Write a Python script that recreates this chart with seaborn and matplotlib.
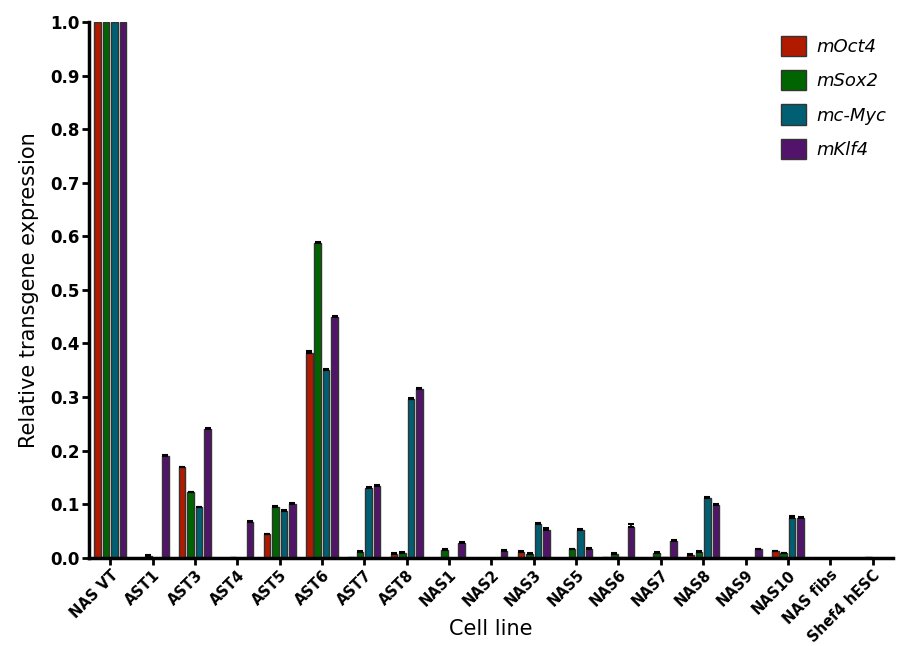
import numpy as np
import pandas as pd
import seaborn as sns
import matplotlib.pyplot as plt

# cell lines on the x axis
cell_lines = ['NAS VT', 'AST1', 'AST3', 'AST4', 'AST5', 'AST6', 'AST7', 'AST8',
              'NAS1', 'NAS2', 'NAS3', 'NAS5', 'NAS6', 'NAS7', 'NAS8', 'NAS9',
              'NAS10', 'NAS fibs', 'Shef4 hESC']
genes = ['mOct4', 'mSox2', 'mc-Myc', 'mKlf4']

# relative expression
oct4 = [1.0, 0.0, 0.169, 0.0, 0.044, 0.383, 0.001, 0.007, 0.0, 0.0,
        0.011, 0.0, 0.001, 0.0, 0.0056, 0.0, 0.012, 0.0, 0.0]
sox2 = [1.0, 0.004, 0.1225, 0.002, 0.095, 0.5875, 0.010, 0.009, 0.015, 0.0,
        0.0075, 0.016, 0.007, 0.009, 0.011, 0.0, 0.008, 0.0, 0.001]
cmyc = [1.0, 0.0, 0.094, 0.0, 0.087, 0.350, 0.130, 0.296, 0.0, 0.0,
        0.063, 0.051, 0.001, 0.001, 0.112, 0.0, 0.075, 0.0, 0.0]
klf4 = [1.0, 0.189, 0.240, 0.067, 0.101, 0.449, 0.134, 0.315, 0.0275, 0.013,
        0.0525, 0.016, 0.0575, 0.031, 0.099, 0.016, 0.074, 0.0, 0.0]

# small error bars (SEM)
oct4_err = [0.0, 0.0, 0.001, 0.0, 0.001, 0.002, 0.0, 0.001, 0.0, 0.0,
            0.001, 0.0, 0.0, 0.0, 0.001, 0.0, 0.001, 0.0, 0.0]
sox2_err = [0.0, 0.001, 0.001, 0.0, 0.001, 0.002, 0.002, 0.001, 0.001, 0.0,
            0.001, 0.001, 0.001, 0.001, 0.001, 0.0, 0.001, 0.0, 0.0]
cmyc_err = [0.0, 0.0, 0.001, 0.0, 0.002, 0.002, 0.002, 0.002, 0.0, 0.0,
            0.002, 0.002, 0.0, 0.0, 0.002, 0.0, 0.002, 0.0, 0.0]
klf4_err = [0.0, 0.002, 0.002, 0.001, 0.002, 0.002, 0.002, 0.002, 0.001, 0.001,
            0.002, 0.002, 0.005, 0.002, 0.002, 0.001, 0.002, 0.0, 0.0]

colors = ['#B21A00', '#006400', '#005F72', '#52146A']

df = pd.DataFrame({
    'Cell line': cell_lines * 4,
    'gene': np.repeat(genes, len(cell_lines)),
    'value': oct4 + sox2 + cmyc + klf4,
})
errs = [oct4_err, sox2_err, cmyc_err, klf4_err]

sns.set_style('ticks')
plt.rcParams['font.family'] = ['DejaVu Sans']
plt.rcParams.update({'text.color': 'black', 'axes.labelcolor': 'black',
                     'xtick.color': 'black', 'ytick.color': 'black',
                     'axes.edgecolor': 'black'})

fig = plt.figure(figsize=(8.97, 6.46), dpi=100)
ax = fig.add_axes([0.0992, 0.1367, 0.8963, 0.8293])

sns.barplot(data=df, x='Cell line', y='value', hue='gene', hue_order=genes,
            palette=colors, saturation=1, width=0.8, gap=0.22, edgecolor='#333333',
            linewidth=1.0, errorbar=None, ax=ax)

# error bars on top of the bars, hide outlines of empty bars
for cont, e in zip(ax.containers, errs):
    xs, hs, es = [], [], []
    for p, err in zip(cont.patches, e):
        if p.get_height() <= 0:
            p.set_linewidth(0)
        if err > 0:
            xs.append(p.get_x() + p.get_width() / 2)
            hs.append(p.get_height())
            es.append(err)
    ax.errorbar(xs, hs, yerr=[np.zeros(len(es)), es], fmt='none', ecolor='black',
                elinewidth=1.2, capsize=2.5, capthick=1.5, zorder=5)

ax.set_xlim(-0.5, 18.48)
ax.set_ylim(0, 1.0)
ax.set_yticks(np.arange(0, 1.01, 0.1))
ax.set_yticklabels(['%.1f' % v for v in np.arange(0, 1.01, 0.1)],
                   fontweight='bold', fontsize=12)
ax.set_xticks(range(len(cell_lines)))
ax.set_xticklabels(cell_lines, rotation=45, ha='right', rotation_mode='anchor',
                   fontweight='bold', fontsize=10.5)

for s in ['top', 'right']:
    ax.spines[s].set_visible(False)
for s in ['left', 'bottom']:
    ax.spines[s].set_linewidth(2.5)
ax.tick_params(axis='both', width=2, length=5, direction='out', pad=2)

ax.set_ylabel('Relative transgene expression', fontsize=15)
ax.yaxis.set_label_coords(-0.062, 0.5)
ax.set_xlabel('Cell line', fontsize=15)
ax.xaxis.set_label_coords(0.5, -0.115)

ax.legend(loc='upper left', bbox_to_anchor=(0.863, 0.956), bbox_transform=fig.transFigure,
          borderaxespad=0, frameon=False, handlelength=1.35, handleheight=1.35,
          handletextpad=0.6, labelspacing=0.78,
          prop={'style': 'italic', 'size': 13})

fig.savefig('out.png', dpi=100)
